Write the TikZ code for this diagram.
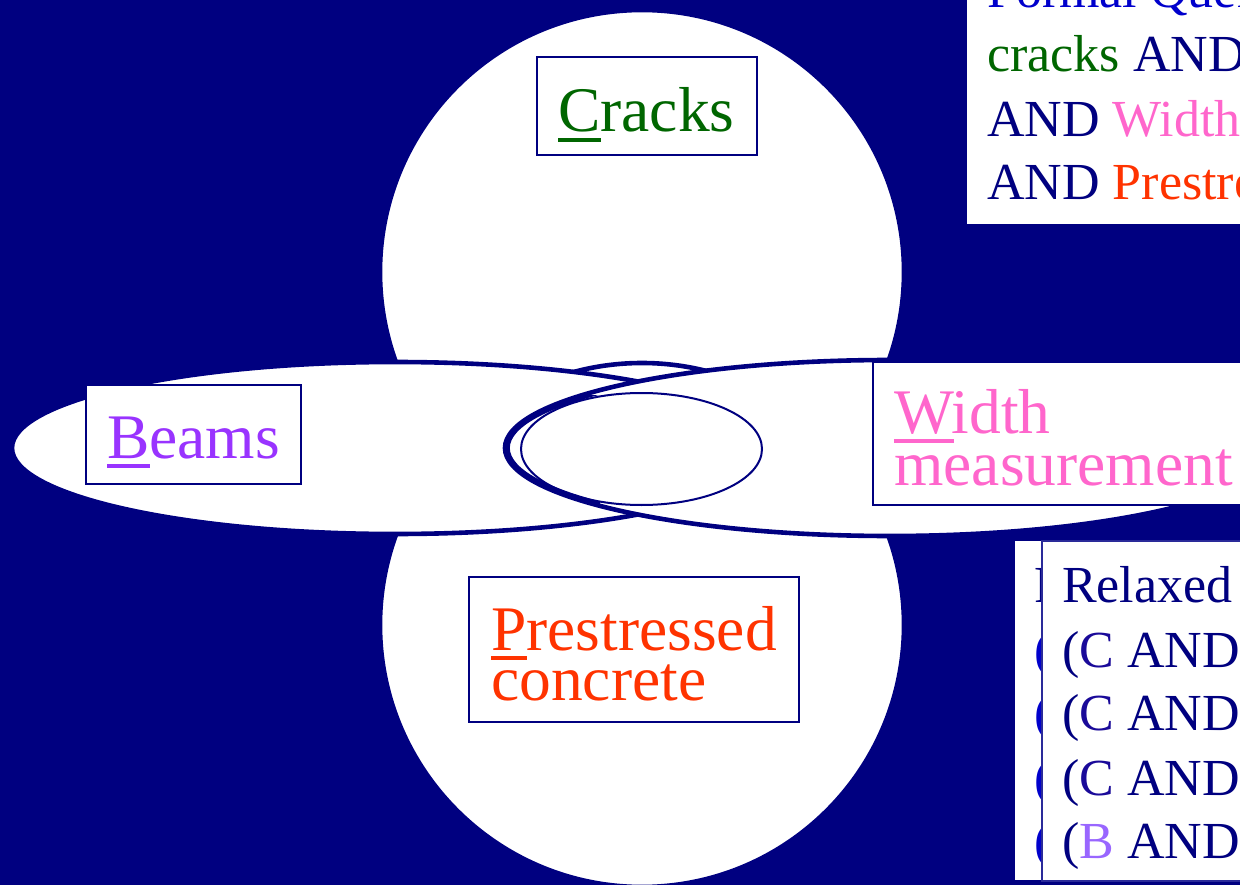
\documentclass[tikz,border=0pt]{standalone}
\usepackage{fontspec}
\setmainfont{Liberation Serif}
\definecolor{bgnavy}{HTML}{000080}
\definecolor{qblue}{HTML}{0000CC}
\definecolor{crgreen}{HTML}{006600}
\definecolor{bmpurple}{HTML}{9933FF}
\definecolor{wdpink}{HTML}{FF66CC}
\definecolor{psred}{HTML}{FF3300}
\definecolor{blilac}{HTML}{9966FF}
\definecolor{cdark}{HTML}{1A0A99}
\definecolor{frameline}{HTML}{2A2A99}
\newcommand\firstul[1]{\setbox0\hbox{#1}\rlap{\rule[-10pt]{\wd0}{3.8pt}}#1}
\begin{document}
\begin{tikzpicture}[x=1pt,y=-1pt,
  whiteshape/.style={fill=white,draw=bgnavy,line width=4.6pt},
  navyline/.style={draw=bgnavy,line width=3.6pt},
  thinline/.style={draw=bgnavy,line width=2pt},
  lbox/.style={rectangle,fill=white,draw=bgnavy,line width=2pt,inner sep=0pt},
  plainbox/.style={rectangle,fill=white,draw=none,inner sep=0pt},
  bigtxt/.style={anchor=base west,inner sep=0pt,font=\fontsize{63.5}{63}\selectfont},
  smalltxt/.style={anchor=base west,inner sep=0pt,font=\fontsize{52}{64}\selectfont}]
\useasboundingbox (0,0) rectangle (1240,885);
\clip (0,0) rectangle (1240,885);
\fill[bgnavy] (0,0) rectangle (1240,885);
% circles and ellipses
\path[whiteshape] (642,272) circle[radius=262pt];
\path[whiteshape] (642,625) circle[radius=262pt];
\path[whiteshape] (395,448) ellipse[x radius=383pt,y radius=86pt];
\path[whiteshape] (890,448) ellipse[x radius=385pt,y radius=88pt];
\begin{scope}
  \clip (495,395) rectangle (600,505);
  \path[navyline] (892,448) ellipse[x radius=384pt,y radius=85pt];
\end{scope}
\path[thinline] (641.5,449) ellipse[x radius=120.5pt,y radius=56pt];
% label boxes
\node[lbox,minimum width=220pt,minimum height=98pt] (crbox) at (647,106) {};
\node[bigtxt,text=crgreen] (crtxt) at (558,132) {\firstul{C}racks};
\node[lbox,minimum width=215pt,minimum height=99pt] (bmbox) at (193.5,434.5) {};
\node[bigtxt,text=bmpurple] (bmtxt) at (107,458) {\firstul{B}eams};
\node[lbox,line width=1.6pt,minimum width=427pt,minimum height=143pt] (wdbox) at (1086.5,433.5) {};
\node[bigtxt,text=wdpink] (wdtxt1) at (894,433) {\firstul{W}idth};
\node[bigtxt,text=wdpink] (wdtxt2) at (894,485) {measurement};
\node[lbox,minimum width=330pt,minimum height=145pt] (psbox) at (634,649.5) {};
\node[bigtxt,text=psred] (pstxt1) at (491,650) {\firstul{P}restressed};
\node[bigtxt,text=psred] (pstxt2) at (491,700) {concrete};
% formal query box
\node[plainbox,minimum width=333pt,minimum height=234pt] (fqbox) at (1133.5,107) {};
\node[smalltxt,text=qblue] (fq0) at (987,8) {Formal Query:};
\node[smalltxt] (fq1) at (987,72) {\textcolor{crgreen}{cracks} \textcolor{bgnavy}{AND} \textcolor{bmpurple}{beams}};
\node[smalltxt] (fq2) at (987,137) {\textcolor{bgnavy}{AND} \textcolor{wdpink}{Width measurement}};
\node[smalltxt] (fq3) at (987,200) {\textcolor{bgnavy}{AND} \textcolor{psred}{Prestressed concrete}};
% relaxed query boxes
\node[plainbox,minimum width=285pt,minimum height=339pt] (rqback) at (1157.5,710.5) {};
\node[smalltxt,text=bgnavy] (rb0) at (1034,602) {Relaxed Query:};
\node[smalltxt,text=qblue] (rb1) at (1034,667) {(C AND B AND W)};
\node[smalltxt,text=qblue] (rb2) at (1034,730) {(C AND B AND P)};
\node[smalltxt,text=qblue] (rb3) at (1034,795) {(C AND W AND P)};
\node[smalltxt,text=qblue] (rb4) at (1034,858) {(B AND W AND P)};
\node[rectangle,fill=white,draw=frameline,line width=1.5pt,inner sep=0pt,minimum width=258pt,minimum height=340pt] (rqfront) at (1171,711) {};
\node[smalltxt,text=bgnavy] (rf0) at (1062,602) {Relaxed Query:};
\node[smalltxt,text=bgnavy] (rf1) at (1062,667) {(\textcolor{cdark}{C} AND B AND W)};
\node[smalltxt,text=bgnavy] (rf2) at (1062,730) {(\textcolor{cdark}{C} AND B AND P)};
\node[smalltxt,text=bgnavy] (rf3) at (1062,795) {(\textcolor{cdark}{C} AND W AND P)};
\node[smalltxt,text=bgnavy] (rf4) at (1062,858) {(\textcolor{blilac}{B} AND W AND P)};
\end{tikzpicture}
\end{document}
